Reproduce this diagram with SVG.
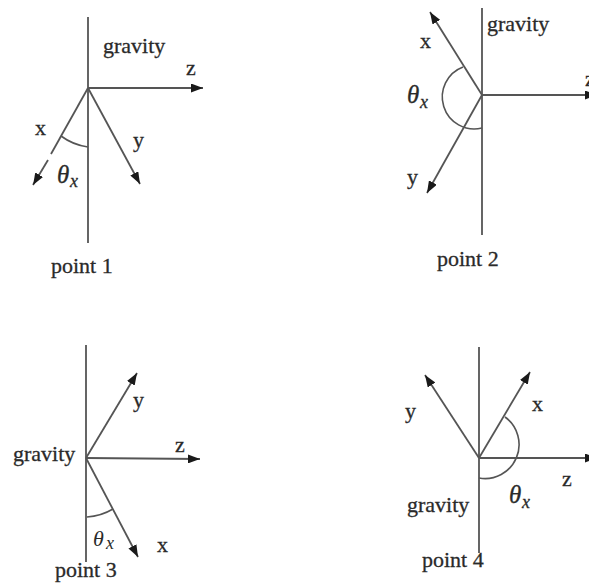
<svg xmlns="http://www.w3.org/2000/svg" width="589" height="588" viewBox="0 0 589 588">
<defs>
<marker id="ah" viewBox="0 0 12 9" refX="12" refY="4.5" markerWidth="12" markerHeight="9" markerUnits="userSpaceOnUse" orient="auto">
<path d="M0,0 L12,4.5 L0,9 z" fill="#1a1a1a"/>
</marker>
<style>
.ax{stroke:#555;stroke-width:1.8;fill:none}
.arr{stroke:#555;stroke-width:1.8;fill:none;marker-end:url(#ah)}
.arc{stroke:#555;stroke-width:1.6;fill:none}
text{font-family:"Liberation Serif","Times New Roman",serif;font-size:22px;fill:#2a2a2a;stroke:#2a2a2a;stroke-width:0.3}
.th{font-style:italic;font-size:25px}
.sub{font-style:italic;font-size:18px}
</style>
</defs>
<rect width="589" height="588" fill="#fff"/>
<g id="connectors">
<!-- point 1 -->
<line class="ax" x1="88" y1="17" x2="88" y2="243"/>
<line class="arr" x1="88" y1="88" x2="203" y2="88"/>
<line class="ax" x1="88" y1="88" x2="51" y2="154"/>
<line class="arr" x1="48" y1="160" x2="33" y2="185"/>
<line class="arr" x1="88" y1="88" x2="140" y2="184"/>
<path class="arc" d="M61,136 A58,58 0 0,0 88,147"/>
<!-- point 2 -->
<line class="ax" x1="482" y1="8" x2="482" y2="235"/>
<line class="arr" x1="482" y1="95" x2="597" y2="95"/>
<line class="arr" x1="482" y1="95" x2="430" y2="12"/>
<line class="arr" x1="482" y1="95" x2="427" y2="193"/>
<path class="arc" d="M463,67 A32,32 0 0,0 482,128"/>
<!-- point 3 -->
<line class="ax" x1="86" y1="345" x2="86" y2="562"/>
<line class="arr" x1="86" y1="458" x2="200" y2="459"/>
<line class="arr" x1="86" y1="458" x2="137" y2="373"/>
<line class="arr" x1="86" y1="458" x2="138" y2="557"/>
<path class="arc" d="M87,517 A58,58 0 0,0 113,509"/>
<!-- point 4 -->
<line class="ax" x1="479" y1="347" x2="479" y2="553"/>
<line class="arr" x1="479" y1="458" x2="597" y2="458"/>
<line class="arr" x1="479" y1="458" x2="425" y2="375"/>
<line class="arr" x1="479" y1="458" x2="530" y2="372"/>
<path class="arc" d="M505,417 A34,34 0 0,1 479,478"/>
</g>
<g id="point1">
<text x="103" y="53">gravity</text>
<text x="186" y="75">z</text>
<text x="35" y="135">x</text>
<text x="133" y="147">y</text>
<text class="th" x="57" y="183">θ</text><text class="sub" x="70" y="187">x</text>
<text x="51" y="273">point 1</text>
</g>
<g id="point2">
<text x="487" y="31">gravity</text>
<text x="585" y="86">z</text>
<text x="420" y="48">x</text>
<text x="407" y="184">y</text>
<text class="th" x="407" y="103">θ</text><text class="sub" x="420" y="108">x</text>
<text x="437" y="266">point 2</text>
</g>
<g id="point3">
<text x="13" y="461">gravity</text>
<text x="175" y="452">z</text>
<text x="133" y="407">y</text>
<text x="157" y="552">x</text>
<text class="th" x="93" y="546" style="font-size:22px;stroke-width:0">θ</text><text class="sub" x="106" y="549" style="stroke-width:0">x</text>
<text x="55" y="577">point 3</text>
</g>
<g id="point4">
<text x="405" y="418">y</text>
<text x="532" y="411">x</text>
<text x="562" y="486">z</text>
<text class="th" x="509" y="503">θ</text><text class="sub" x="522" y="508">x</text>
<text x="407" y="512">gravity</text>
<text x="422" y="567">point 4</text>
</g>
</svg>
